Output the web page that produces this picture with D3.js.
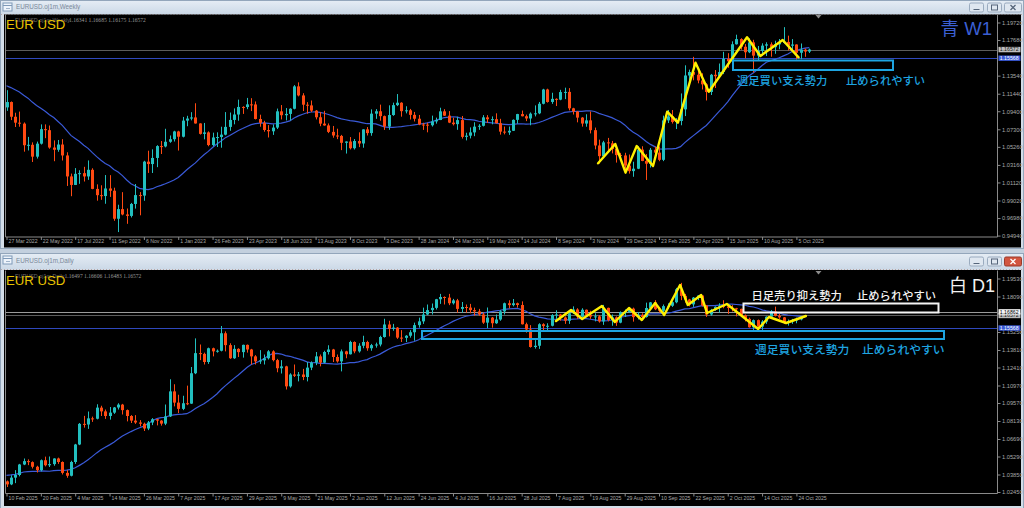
<!DOCTYPE html>
<html><head><meta charset="utf-8">
<script src="https://cdn.jsdelivr.net/npm/d3@7/dist/d3.min.js"></script>
<style>html,body{margin:0;padding:0;background:#c3d0de;overflow:hidden}svg{display:block}</style>
</head><body>
<svg id="chart" width="1024" height="508"></svg>
<script>
// ---------------- DATA ----------------
const weeklyDates = ["27 Mar 2022","22 May 2022","17 Jul 2022","11 Sep 2022","6 Nov 2022","1 Jan 2023","26 Feb 2023","23 Apr 2023","18 Jun 2023","13 Aug 2023","8 Oct 2023","3 Dec 2023","28 Jan 2024","24 Mar 2024","19 May 2024","14 Jul 2024","8 Sep 2024","3 Nov 2024","29 Dec 2024","23 Feb 2025","20 Apr 2025","15 Jun 2025","10 Aug 2025","5 Oct 2025"];
const weeklyFirstOpen = 1.0985;
const weeklyClose = [1.1047,1.0876,1.0807,1.0796,1.0545,1.0550,1.0412,1.0563,1.0732,1.0720,
1.0518,1.0492,1.0553,1.0426,1.0182,1.0083,1.0212,1.0220,1.0182,1.0259,
1.0037,0.9964,0.9954,1.0042,1.0016,0.9690,0.9802,0.9740,0.9723,0.9862,
0.9965,0.9959,1.0354,1.0326,1.0397,1.0535,1.0531,1.0585,1.0615,1.0705,
1.0644,1.0831,1.0855,1.0868,1.0798,1.0677,1.0694,1.0547,1.0635,1.0640,
1.0668,1.0758,1.0839,1.0902,1.0990,1.0989,1.1020,1.1019,1.0850,1.0805,
1.0722,1.0707,1.0750,1.0939,1.0894,1.0909,1.0969,1.1229,1.1124,1.1016,
1.1008,1.0947,1.0870,1.0796,1.0775,1.0700,1.0658,1.0653,1.0573,1.0588,
1.0510,1.0594,1.0565,1.0729,1.0686,1.0912,1.0940,1.0883,1.0762,1.0896,
1.1011,1.1039,1.0941,1.0951,1.0898,1.0853,1.0786,1.0784,1.0777,1.0822,
1.0838,1.0939,1.0889,1.0808,1.0790,1.0837,1.0642,1.0656,1.0694,1.0761,
1.0771,1.0869,1.0847,1.0848,1.0801,1.0703,1.0693,1.0713,1.0840,1.0907,
1.0882,1.0856,1.0912,1.0916,1.1027,1.1193,1.1048,1.1084,1.1075,1.1163,
1.1165,1.0974,1.0937,1.0866,1.0797,1.0834,1.0720,1.0542,1.0418,1.0578,
1.0567,1.0501,1.0430,1.0426,1.0308,1.0244,1.0272,1.0494,1.0362,1.0330,
1.0492,1.0459,1.0375,1.0834,1.0880,1.0816,1.0827,1.0962,1.1356,1.1396,
1.1364,1.1298,1.1253,1.1164,1.1364,1.1347,1.1396,1.1550,1.1521,1.1719,
1.1779,1.1690,1.1626,1.1741,1.1587,1.1641,1.1703,1.1718,1.1685,1.1718,
1.1734,1.1746,1.1702,1.1716,1.1620,1.1656,1.1634,1.16572];
const weeklyHigh = [1.1185,1.1054,1.0923,1.0936,1.0810,1.0642,1.0578,1.0587,1.0787,1.0787,
1.0774,1.0601,1.0606,1.0615,1.0463,1.0215,1.0279,1.0254,1.0294,1.0368,
1.0277,1.0090,1.0079,1.0198,1.0197,1.0051,0.9853,0.9999,0.9809,0.9874,
1.0094,1.0000,1.0364,1.0481,1.0497,1.0545,1.0594,1.0736,1.0658,1.0713,
1.0713,1.0874,1.0887,1.0929,1.1033,1.0800,1.0804,1.0706,1.0691,1.0695,
1.0760,1.0930,1.0925,1.0973,1.1075,1.0998,1.1095,1.1092,1.1054,1.0900,
1.0829,1.0779,1.0787,1.0971,1.1012,1.0977,1.0975,1.1244,1.1276,1.1150,
1.1046,1.1065,1.0954,1.0930,1.0945,1.0798,1.0769,1.0737,1.0665,1.0590,
1.0640,1.0617,1.0695,1.0730,1.0756,1.0962,1.0965,1.1017,1.0890,1.1009,
1.1040,1.1140,1.1045,1.0998,1.0967,1.0932,1.0897,1.0806,1.0806,1.0889,
1.0866,1.0981,1.0964,1.0942,1.0865,1.0876,1.0885,1.0690,1.0752,1.0812,
1.0790,1.0895,1.0895,1.0880,1.0916,1.0852,1.0762,1.0762,1.0845,1.0910,
1.0948,1.0901,1.0926,1.1008,1.1048,1.1201,1.1202,1.1155,1.1090,1.1189,
1.1214,1.1209,1.0980,1.0942,1.0872,1.0905,1.0937,1.0750,1.0610,1.0596,
1.0630,1.0595,1.0535,1.0456,1.0457,1.0437,1.0353,1.0533,1.0533,1.0442,
1.0513,1.0528,1.0529,1.0889,1.0955,1.0954,1.0860,1.1147,1.1474,1.1424,
1.1573,1.1424,1.1381,1.1266,1.1374,1.1419,1.1495,1.1631,1.1615,1.1753,
1.1830,1.1789,1.1721,1.1789,1.1771,1.1699,1.1730,1.1742,1.1741,1.1760,
1.1780,1.1918,1.1819,1.1779,1.1718,1.1728,1.1669,1.16685];
const weeklyLow = [1.0945,1.0837,1.0757,1.0760,1.0470,1.0484,1.0350,1.0390,1.0553,1.0627,
1.0504,1.0359,1.0469,1.0367,1.0071,0.9952,1.0082,1.0096,1.0123,1.0142,
1.0033,0.9900,0.9910,0.9864,0.9944,0.9666,0.9535,0.9730,0.9631,0.9705,
0.9808,0.9730,0.9899,1.0223,1.0222,1.0290,1.0443,1.0520,1.0573,1.0588,
1.0483,1.0636,1.0766,1.0834,1.0796,1.0669,1.0613,1.0533,1.0533,1.0524,
1.0516,1.0660,1.0713,1.0788,1.0830,1.0909,1.0964,1.0942,1.0845,1.0760,
1.0702,1.0635,1.0665,1.0733,1.0845,1.0833,1.0833,1.0962,1.1113,1.0942,
1.0912,1.0930,1.0845,1.0766,1.0772,1.0686,1.0632,1.0616,1.0488,1.0448,
1.0496,1.0495,1.0523,1.0516,1.0658,1.0655,1.0852,1.0830,1.0723,1.0724,
1.0887,1.1000,1.0877,1.0915,1.0844,1.0821,1.0778,1.0723,1.0695,1.0762,
1.0796,1.0837,1.0885,1.0802,1.0775,1.0724,1.0622,1.0601,1.0624,1.0650,
1.0724,1.0763,1.0805,1.0788,1.0797,1.0668,1.0671,1.0665,1.0710,1.0796,
1.0880,1.0825,1.0777,1.0880,1.0906,1.1020,1.1040,1.1026,1.1001,1.1068,
1.1081,1.0950,1.0902,1.0811,1.0761,1.0760,1.0682,1.0497,1.0332,1.0410,
1.0460,1.0450,1.0343,1.0383,1.0226,1.0215,1.0178,1.0267,1.0359,1.0141,
1.0285,1.0401,1.0359,1.0360,1.0803,1.0797,1.0733,1.0777,1.0884,1.1265,
1.1300,1.1265,1.1193,1.1065,1.1129,1.1210,1.1345,1.1372,1.1445,1.1455,
1.1715,1.1656,1.1556,1.1616,1.1392,1.1528,1.1589,1.1582,1.1574,1.1608,
1.1661,1.1726,1.1646,1.1646,1.1542,1.1545,1.1573,1.16175];
// 19 weekly closes before the first visible bar (feed the 20-period moving average)
const weeklyPriorCloses = [1.1290,1.1318,1.1316,1.1284,1.1240,1.1323,1.1370,1.1360,1.1413,1.1342,1.1146,1.1450,1.1350,1.1320,1.1268,1.0935,1.0913,1.1050,1.0985];
const weeklyPriceTicks = [1.1972,1.1768,1.1354,1.1144,1.0940,1.0730,1.0526,1.0316,1.0112,0.9902,0.9698,0.9494];
const weeklyLevels = [1.16572, 1.15568];
const weeklyQuote = [1.16341, 1.16685, 1.16175, 1.16572];
// hand-drawn zigzag: [bar index, price]
const weeklyZigzag = [[137.8,1.0335],[141.8,1.0559],[144.2,1.0226],[146.8,1.0536],[150.6,1.0303],[153.9,1.0935],[156.4,1.0807],[160.5,1.1505],[163.6,1.1167],[172.5,1.1800],[175.6,1.1582],[180.8,1.1769],[184.5,1.1567]];

const dailyDates = ["10 Feb 2025","20 Feb 2025","4 Mar 2025","14 Mar 2025","26 Mar 2025","7 Apr 2025","17 Apr 2025","29 Apr 2025","9 May 2025","21 May 2025","2 Jun 2025","12 Jun 2025","24 Jun 2025","4 Jul 2025","16 Jul 2025","28 Jul 2025","7 Aug 2025","19 Aug 2025","29 Aug 2025","10 Sep 2025","22 Sep 2025","2 Oct 2025","14 Oct 2025","24 Oct 2025"];
const dailyFirstOpen = 1.0330;
const dailyClose = [1.0306,1.0360,1.0381,1.0465,1.0492,1.0484,1.0447,1.0420,1.0499,1.0459,
1.0468,1.0513,1.0485,1.0398,1.0375,1.0485,1.0625,1.0790,1.0785,1.0834,
1.0831,1.0920,1.0890,1.0853,1.0880,1.0921,1.0944,1.0900,1.0853,1.0816,
1.0801,1.0791,1.0753,1.0801,1.0827,1.0816,1.0792,1.0850,1.1050,1.0960,
1.0910,1.0955,1.0952,1.1195,1.1356,1.1350,1.1285,1.1395,1.1370,1.1375,
1.1515,1.1420,1.1315,1.1390,1.1364,1.1422,1.1385,1.1330,1.1290,1.1298,
1.1315,1.1370,1.1300,1.1235,1.1250,1.1090,1.1185,1.1175,1.1185,1.1165,
1.1240,1.1280,1.1330,1.1280,1.1365,1.1385,1.1325,1.1290,1.1370,1.1347,
1.1445,1.1370,1.1415,1.1445,1.1395,1.1420,1.1425,1.1485,1.1585,1.1550,
1.1560,1.1480,1.1478,1.1495,1.1523,1.1580,1.1610,1.1665,1.1700,1.1718,
1.1787,1.1805,1.1800,1.1755,1.1778,1.1710,1.1725,1.1720,1.1700,1.1690,
1.1665,1.1600,1.1640,1.1595,1.1625,1.1690,1.1755,1.1740,1.1755,1.1741,
1.1587,1.1545,1.1405,1.1415,1.1587,1.1572,1.1575,1.1660,1.1665,1.1641,
1.1615,1.1675,1.1705,1.1648,1.1703,1.1662,1.1648,1.1650,1.1610,1.1718,
1.1620,1.1642,1.1600,1.1683,1.1686,1.1712,1.1644,1.1661,1.1645,1.1717,
1.1762,1.1707,1.1695,1.1732,1.1735,1.1763,1.1867,1.1814,1.1785,1.1746,
1.1800,1.1817,1.1737,1.1665,1.1702,1.1726,1.1734,1.1730,1.1717,1.1715,
1.1710,1.1658,1.1630,1.1563,1.1620,1.1568,1.1608,1.1647,1.1689,1.1655,
1.1642,1.1600,1.1610,1.1617,1.1626,1.16497,1.16572];
const dailyHigh = [1.0337,1.0379,1.0420,1.0470,1.0513,1.0506,1.0490,1.0455,1.0505,1.0528,
1.0529,1.0515,1.0520,1.0490,1.0420,1.0495,1.0630,1.0797,1.0854,1.0889,
1.0848,1.0947,1.0935,1.0905,1.0925,1.0925,1.0955,1.0950,1.0905,1.0860,
1.0860,1.0820,1.0800,1.0813,1.0836,1.0830,1.0820,1.0945,1.1147,1.1107,
1.1023,1.1015,1.1096,1.1245,1.1474,1.1425,1.1360,1.1400,1.1400,1.1385,
1.1573,1.1530,1.1435,1.1420,1.1395,1.1424,1.1425,1.1390,1.1340,1.1380,
1.1345,1.1380,1.1379,1.1310,1.1300,1.1255,1.1195,1.1265,1.1205,1.1230,
1.1285,1.1290,1.1365,1.1345,1.1375,1.1419,1.1390,1.1345,1.1385,1.1375,
1.1455,1.1450,1.1435,1.1495,1.1455,1.1430,1.1440,1.1495,1.1631,1.1615,
1.1590,1.1565,1.1540,1.1500,1.1540,1.1600,1.1640,1.1720,1.1745,1.1753,
1.1790,1.1830,1.1810,1.1830,1.1790,1.1790,1.1765,1.1745,1.1750,1.1720,
1.1710,1.1680,1.1721,1.1645,1.1665,1.1700,1.1760,1.1779,1.1789,1.1760,
1.1770,1.1600,1.1580,1.1460,1.1595,1.1595,1.1595,1.1668,1.1699,1.1670,
1.1650,1.1685,1.1730,1.1715,1.1715,1.1705,1.1695,1.1675,1.1660,1.1742,
1.1720,1.1665,1.1650,1.1690,1.1705,1.1720,1.1720,1.1685,1.1675,1.1760,
1.1765,1.1780,1.1725,1.1745,1.1755,1.1770,1.1878,1.1918,1.1830,1.1790,
1.1805,1.1819,1.1818,1.1740,1.1710,1.1730,1.1755,1.1779,1.1745,1.1740,
1.1718,1.1712,1.1665,1.1640,1.1625,1.1625,1.1620,1.1650,1.1700,1.1728,
1.1669,1.1645,1.1625,1.1630,1.1640,1.1650,1.16606];
const dailyLow = [1.0285,1.0300,1.0316,1.0370,1.0460,1.0460,1.0433,1.0401,1.0410,1.0450,
1.0445,1.0455,1.0470,1.0385,1.0359,1.0370,1.0470,1.0620,1.0760,1.0750,
1.0806,1.0826,1.0853,1.0830,1.0824,1.0870,1.0905,1.0865,1.0810,1.0797,
1.0790,1.0770,1.0733,1.0740,1.0780,1.0778,1.0776,1.0780,1.0845,1.0930,
1.0877,1.0900,1.0940,1.0950,1.1188,1.1300,1.1265,1.1270,1.1330,1.1360,
1.1370,1.1370,1.1310,1.1310,1.1325,1.1320,1.1360,1.1265,1.1265,1.1270,
1.1265,1.1305,1.1290,1.1203,1.1193,1.1065,1.1080,1.1165,1.1130,1.1140,
1.1130,1.1220,1.1260,1.1250,1.1275,1.1345,1.1285,1.1280,1.1210,1.1315,
1.1345,1.1355,1.1360,1.1395,1.1375,1.1375,1.1400,1.1410,1.1480,1.1490,
1.1535,1.1470,1.1445,1.1445,1.1480,1.1455,1.1560,1.1590,1.1660,1.1665,
1.1705,1.1750,1.1745,1.1740,1.1745,1.1680,1.1680,1.1680,1.1675,1.1656,
1.1655,1.1590,1.1556,1.1560,1.1590,1.1615,1.1665,1.1715,1.1730,1.1720,
1.1585,1.1520,1.1400,1.1392,1.1390,1.1528,1.1540,1.1570,1.1630,1.1615,
1.1590,1.1590,1.1670,1.1630,1.1645,1.1650,1.1630,1.1610,1.1600,1.1582,
1.1610,1.1575,1.1574,1.1595,1.1645,1.1680,1.1608,1.1625,1.1630,1.1640,
1.1705,1.1700,1.1680,1.1661,1.1712,1.1726,1.1755,1.1780,1.1760,1.1730,
1.1726,1.1780,1.1730,1.1646,1.1655,1.1695,1.1680,1.1715,1.1670,1.1690,
1.1650,1.1645,1.1610,1.1560,1.1542,1.1560,1.1542,1.1590,1.1640,1.1650,
1.1630,1.1590,1.1576,1.1590,1.1595,1.1618,1.16483];
// 19 daily closes before the first visible bar (feed the 20-period moving average)
const dailyPriorCloses = [1.0307,1.0290,1.0300,1.0272,1.0415,1.0430,1.0410,1.0415,1.0494,1.0493,1.0430,1.0424,1.0390,1.0362,1.0343,1.0380,1.0403,1.0380,1.0330];
const dailyPriceTicks = [1.1953,1.1809,1.1525,1.1381,1.1241,1.1097,1.0957,1.0813,1.0669,1.0529,1.0385,1.0245];
const dailyLevels = [1.16862, 1.16572, 1.15568];
const dailyQuote = [1.16497, 1.16606, 1.16483, 1.16572];
const dailyZigzag = [[128.0,1.1613],[131.5,1.1701],[134.1,1.1629],[138.7,1.1733],[141.7,1.1605],[145.0,1.1717],[148.0,1.1621],[151.1,1.1757],[153.2,1.1661],[156.9,1.1901],[158.7,1.1741],[161.8,1.1821],[163.2,1.1677],[167.8,1.1749],[175.1,1.1549],[177.6,1.1645],[181.6,1.1597],[186.2,1.1653]];

// ---------------- STYLE ----------------
const BULL = '#22bfbf', BEAR = '#ff4a12', MA_COL = '#3a5ad8', ZZ = '#fff000', CYAN = '#1ea4e0';
const levelStyles = {
  white: {line:'#9a9a9a', bg:'#f4f4f4', fg:'#000'},
  gray:  {line:'#5c5c5c', bg:'#bdbdbd', fg:'#1a1a1a'},
  blue:  {line:'#2f48bd', bg:'#3a5ad8', fg:'#ffffff'}
};
const fmt5 = d3.format('.5f');
const svg = d3.select('#chart');
const defs = svg.append('defs');
const tg = defs.append('linearGradient').attr('id','tb').attr('x1',0).attr('y1',0).attr('x2',0).attr('y2',1);
tg.append('stop').attr('offset',0).attr('stop-color','#e4ecf4');
tg.append('stop').attr('offset',1).attr('stop-color','#ccd9e7');

svg.append('rect').attr('width',1024).attr('height',508).attr('fill','#c3d0de');

function windowChrome(wTop, height, titleH, title, redClose) {
  svg.append('rect').attr('x',0.5).attr('y',wTop+0.5).attr('width',1023).attr('height',height-1)
    .attr('fill','#d3dde8').attr('stroke','#93a6bb');
  svg.append('rect').attr('x',1).attr('y',wTop+1).attr('width',1022).attr('height',titleH-1).attr('fill','url(#tb)');
  const ic = svg.append('g').attr('transform',`translate(3,${wTop+3})`);
  ic.append('rect').attr('width',9).attr('height',8).attr('fill','#eef4fb').attr('stroke','#7f9ab8');
  ic.append('line').attr('x1',0).attr('x2',9).attr('y1',2.5).attr('y2',2.5).attr('stroke','#7f9ab8');
  ic.append('line').attr('x1',3).attr('x2',7).attr('y1',5.5).attr('y2',5.5).attr('stroke','#a0b4ca');
  svg.append('text').attr('x',16).attr('y',wTop+titleH/2+2.3).text(title)
    .attr('fill','#7a899a').attr('font-family','Liberation Sans').attr('font-size',6.3);
  const bx = [969, 987, 1004];
  bx.forEach((bxx,k) => {
    const w = k===2 ? 17 : 14;
    const by = wTop + titleH/2 - 4.5;
    svg.append('rect').attr('x',bxx+0.5).attr('y',by+0.5).attr('width',w).attr('height',9).attr('rx',1.5)
      .attr('fill', (k===2 && redClose) ? '#d2553f' : '#dfe7f0').attr('stroke', (k===2 && redClose) ? '#9c3a2a' : '#9aabbf');
    const cx = bxx + w/2 + 0.5, cy = by + 5;
    if (k===0) svg.append('line').attr('x1',cx-3).attr('x2',cx+3).attr('y1',cy+2).attr('y2',cy+2).attr('stroke','#55657a');
    if (k===1) svg.append('rect').attr('x',cx-3).attr('y',cy-2.5).attr('width',6).attr('height',5).attr('fill','none').attr('stroke','#55657a');
    if (k===2) {
      const c = redClose ? '#fff' : '#55657a';
      svg.append('path').attr('d',`M${cx-2.5},${cy-2.5}L${cx+2.5},${cy+2.5}M${cx+2.5},${cy-2.5}L${cx-2.5},${cy+2.5}`).attr('stroke',c).attr('stroke-width',1.3);
    }
  });
  svg.append('line').attr('x1',1).attr('x2',1023).attr('y1',wTop+titleH+0.5).attr('y2',wTop+titleH+0.5).attr('stroke','#b7a7a7').attr('stroke-dasharray','1,2');
}

function drawPanel(p) {
  const g = svg.append('g');
  const left = 5.5, right = 997.5;
  g.append('rect').attr('x',4).attr('y',p.winTop).attr('width',1017).attr('height',p.winBottom-p.winTop).attr('fill','#000');
  const x = d3.scaleLinear().domain([0, 1]).range([6.5, 6.5 + 4.293]);
  const y = d3.scaleLinear().domain(p.priceDomain).range(p.pixelRange);
  const cid = 'clip' + p.id;
  defs.append('clipPath').attr('id', cid).append('rect')
    .attr('x', left).attr('y', p.plotTop).attr('width', right-left).attr('height', p.plotBottom - p.plotTop);
  const plot = g.append('g').attr('clip-path', `url(#${cid})`);

  const levels = p.levels.map((v,k) => ({price:v, st: levelStyles[p.levelKinds[k]]}));
  plot.selectAll('line.level').data(levels).join('line').attr('class','level')
    .attr('x1', left).attr('x2', right)
    .attr('y1', d => Math.round(y(d.price)) + 0.5).attr('y2', d => Math.round(y(d.price)) + 0.5)
    .attr('stroke', d => d.st.line).attr('stroke-width', 1);

  // 20-period simple moving average of the closes
  const all = p.prior.concat(p.close);
  const ma = p.close.map((c, i) => ({ i, v: d3.mean(all.slice(i + p.prior.length - 19, i + p.prior.length + 1)) }));
  plot.append('path').datum(ma).attr('d', d3.line().x(d => x(d.i)).y(d => y(d.v)))
    .attr('fill','none').attr('stroke',MA_COL).attr('stroke-width',1.2);

  const bars = p.close.map((c,i) => ({i, o: i===0 ? p.firstOpen : p.close[i-1], h: p.high[i], l: p.low[i], c}));
  const col = d => d.c >= d.o ? BULL : BEAR;
  const cg = plot.append('g');
  cg.selectAll('line').data(bars).join('line')
    .attr('x1', d => Math.round(x(d.i)) + 0.5).attr('x2', d => Math.round(x(d.i)) + 0.5)
    .attr('y1', d => y(d.h)).attr('y2', d => y(d.l)).attr('stroke', col).attr('stroke-width',1);
  cg.selectAll('rect').data(bars).join('rect')
    .attr('x', d => Math.round(x(d.i)) - 1).attr('width', 3)
    .attr('y', d => y(Math.max(d.o, d.c))).attr('height', d => Math.max(1, Math.abs(y(d.o) - y(d.c))))
    .attr('fill', col);

  plot.append('path').datum(p.zigzag).attr('d', d3.line().x(d => x(d[0])).y(d => y(d[1])))
    .attr('fill','none').attr('stroke',ZZ).attr('stroke-width',2.4).attr('stroke-linejoin','round').attr('stroke-linecap','round');

  g.append('path').attr('d', `M${left},${p.plotTop}V${p.plotBottom}H${right}V${p.plotTop}`).attr('fill','none').attr('stroke','#8a8a8a').attr('stroke-width',1);
  g.append('path').attr('d', `M815.5,${p.plotTop+0.5}h6l-3,3.5z`).attr('fill','#8c8c8c');

  const ya = g.append('g').attr('transform', `translate(${right},0)`)
    .call(d3.axisRight(y).tickValues(p.priceTicks).tickFormat(fmt5).tickSize(3).tickPadding(1.5));
  ya.attr('font-family','Liberation Sans').attr('font-size',5.7);
  ya.select('.domain').remove();
  ya.selectAll('.tick line').attr('stroke','#8a8a8a');
  ya.selectAll('.tick text').attr('fill','#a8a8a8');

  // price boxes: drawn bottom-up so the upper (earlier) box stays on top
  const pb = g.selectAll('g.pbox').data(levels.slice().reverse()).join('g').attr('class','pbox')
    .attr('transform', d => `translate(${right+1},${y(d.price)})`);
  pb.append('rect').attr('x',0).attr('y',-2.7).attr('width',22).attr('height',5.4).attr('fill', d => d.st.bg);
  pb.append('text').attr('x',1.3).attr('dy','0.33em').text(d => fmt5(d.price))
    .attr('fill', d => d.st.fg).attr('font-family','Liberation Sans').attr('font-size',5.2);

  const xa = g.append('g').attr('transform', `translate(0,${p.plotBottom})`)
    .call(d3.axisBottom(x).tickValues(p.dates.map((_, k) => k * 8)).tickFormat((d, k) => p.dates[k]).tickSize(3).tickSizeOuter(0));
  xa.attr('font-family','Liberation Sans').attr('font-size',5.2);
  xa.select('.domain').remove();
  xa.selectAll('.tick line').attr('stroke','#8a8a8a');
  xa.selectAll('.tick text').attr('fill','#a8a8a8').attr('text-anchor','start').attr('x',1.5).attr('y',2.6).attr('dy','0.71em');

  // symbol header (partly covered by the big label, as in MT4)
  g.append('text').attr('x',15).attr('y',p.plotTop+7.5).text(p.headerName)
    .attr('fill','#6f6f6f').attr('font-family','Liberation Sans').attr('font-size',5.4);
  g.append('text').attr('x',p.quoteX).attr('y',p.plotTop+7.5).text(p.quote.map(fmt5).join(' '))
    .attr('fill','#9a9a9a').attr('font-family','Liberation Serif').attr('font-size',5.6);
  g.append('text').attr('x',6).attr('y',p.plotTop+14.5).text('EUR USD')
    .attr('fill','#e8c200').attr('font-family','Liberation Sans').attr('font-size',13.2);
  return {g, x, y};
}

windowChrome(0, 249, 14, 'EURUSD.oj1m,Weekly', false);
windowChrome(253, 256, 16, 'EURUSD.oj1m,Daily', true);

const weeklyPanel = drawPanel({
  id:'w', winTop:14.5, winBottom:247.5, plotTop:14.5, plotBottom:237,
  priceDomain:[0.9494, 1.1972], pixelRange:[235.6, 22.5],
  close:weeklyClose, high:weeklyHigh, low:weeklyLow, firstOpen:weeklyFirstOpen, prior:weeklyPriorCloses,
  priceTicks:weeklyPriceTicks, levels:weeklyLevels, levelKinds:['gray','blue'],
  dates:weeklyDates, zigzag:weeklyZigzag, quote:weeklyQuote,
  headerName:'EURUSD.oj1m,Weekly', quoteX:69
});
const dailyPanel = drawPanel({
  id:'d', winTop:270, winBottom:506, plotTop:270.5, plotBottom:493.5,
  priceDomain:[1.0245, 1.1953], pixelRange:[492, 278.5],
  close:dailyClose, high:dailyHigh, low:dailyLow, firstOpen:dailyFirstOpen, prior:dailyPriorCloses,
  priceTicks:dailyPriceTicks, levels:dailyLevels, levelKinds:['white','gray','blue'],
  dates:dailyDates, zigzag:dailyZigzag, quote:dailyQuote,
  headerName:'EURUSD.oj1m,Daily', quoteX:64.5
});

// ---------------- ANNOTATIONS ----------------
const jp = 'Noto Sans CJK JP';
weeklyPanel.g.append('text').attr('x',992).attr('y',35).attr('text-anchor','end').text('青 W1')
  .attr('fill','#3b5fd2').attr('font-family',"'Liberation Sans','Noto Sans CJK JP'").attr('font-size',18.5);
weeklyPanel.g.append('rect').attr('x',733).attr('y',60.5).attr('width',160).attr('height',9.5)
  .attr('fill','none').attr('stroke',CYAN).attr('stroke-width',2);
const t1 = weeklyPanel.g.append('text').attr('y',85).attr('fill',CYAN).attr('font-family',jp).attr('font-size',11.3).attr('font-weight',500);
t1.append('tspan').attr('x',737).text('週足買い支え勢力');
t1.append('tspan').attr('x',846).text('止められやすい');

dailyPanel.g.append('text').attr('x',995).attr('y',291.5).attr('text-anchor','end').text('白 D1')
  .attr('fill','#f2f2f2').attr('font-family',"'Liberation Sans','Noto Sans CJK JP'").attr('font-size',18);
dailyPanel.g.append('rect').attr('x',743.5).attr('y',303.5).attr('width',195).attr('height',9)
  .attr('fill','none').attr('stroke','#f4f4f4').attr('stroke-width',2);
const t2 = dailyPanel.g.append('text').attr('y',300).attr('fill','#f4f4f4').attr('font-family',jp).attr('font-size',11.3).attr('font-weight',500);
t2.append('tspan').attr('x',751.5).text('日足売り抑え勢力');
t2.append('tspan').attr('x',857).text('止められやすい');
dailyPanel.g.append('rect').attr('x',422).attr('y',331).attr('width',522).attr('height',8)
  .attr('fill','none').attr('stroke',CYAN).attr('stroke-width',2);
const t3 = dailyPanel.g.append('text').attr('y',354).attr('fill',CYAN).attr('font-family',jp).attr('font-size',11.8).attr('font-weight',500);
t3.append('tspan').attr('x',755).text('週足買い支え勢力');
t3.append('tspan').attr('x',862).text('止められやすい');
</script>
</body></html>
